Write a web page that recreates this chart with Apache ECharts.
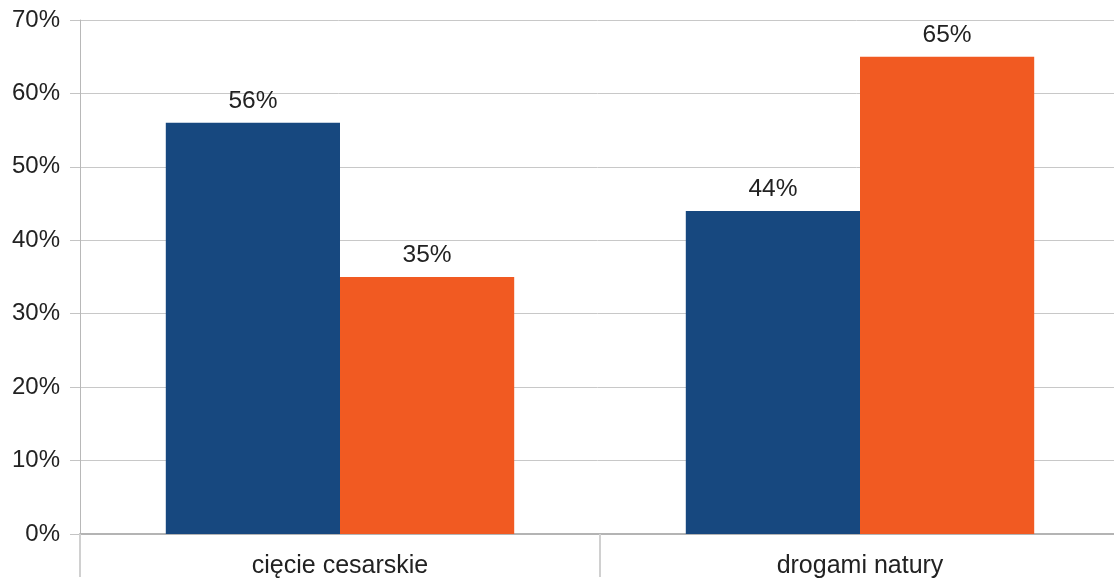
<!DOCTYPE html>
<html>
<head>
<meta charset="utf-8">
<script src="https://cdn.jsdelivr.net/npm/echarts@6/dist/echarts.min.js"></script>
<style>
  html, body { margin: 0; padding: 0; background: #fff; }
  #chart { width: 1114px; height: 583px; }
</style>
</head>
<body>
<div id="chart"></div>
<script>
// Kategorie porodu i udziały procentowe dwóch grup
const categories = ['cięcie cesarskie', 'drogami natury'];
const seriesA = [56, 44];
const seriesB = [35, 65];
const yTicks = { min: 0, max: 70, interval: 10 };

const chart = echarts.init(document.getElementById('chart'), null, { renderer: 'canvas' });

const FONT = 'Liberation Sans, Arial, sans-serif';

const labelStyle = {
  show: true,
  position: 'top',
  distance: 9,
  formatter: '{c}%',
  fontFamily: FONT,
  fontSize: 24.5,
  color: '#222'
};

chart.setOption({
  animation: false,
  backgroundColor: '#ffffff',
  // the plot runs slightly past the right edge of the canvas
  grid: { left: 80, top: 20, right: -6, bottom: 49, containLabel: false, outerBoundsMode: 'none' },
  xAxis: {
    type: 'category',
    data: categories,
    axisLine: { show: true, lineStyle: { color: '#b4b4b4', width: 2 } },
    axisTick: { show: true, length: 43, alignWithLabel: false, lineStyle: { color: '#d0d0d0', width: 2 } },
    axisLabel: {
      margin: 20,
      fontFamily: FONT,
      fontSize: 25,
      color: '#222'
    }
  },
  yAxis: {
    type: 'value',
    min: yTicks.min,
    max: yTicks.max,
    interval: yTicks.interval,
    axisLine: { show: true, lineStyle: { color: '#b8b8b8', width: 1 } },
    axisTick: { show: true, length: 10, lineStyle: { color: '#c4c4c4' } },
    splitLine: { show: true, lineStyle: { color: '#c8c8c8', width: 1 } },
    axisLabel: {
      margin: 20,
      formatter: '{value}%',
      fontFamily: FONT,
      fontSize: 24,
      color: '#222'
    }
  },
  series: [
    {
      type: 'bar',
      name: 'A',
      data: seriesA,
      barGap: '0%',
      barCategoryGap: '33%',
      itemStyle: { color: '#17487f' },
      label: labelStyle
    },
    {
      type: 'bar',
      name: 'B',
      data: seriesB,
      barGap: '0%',
      barCategoryGap: '33%',
      itemStyle: { color: '#f15a22' },
      label: labelStyle
    }
  ]
});
</script>
</body>
</html>
